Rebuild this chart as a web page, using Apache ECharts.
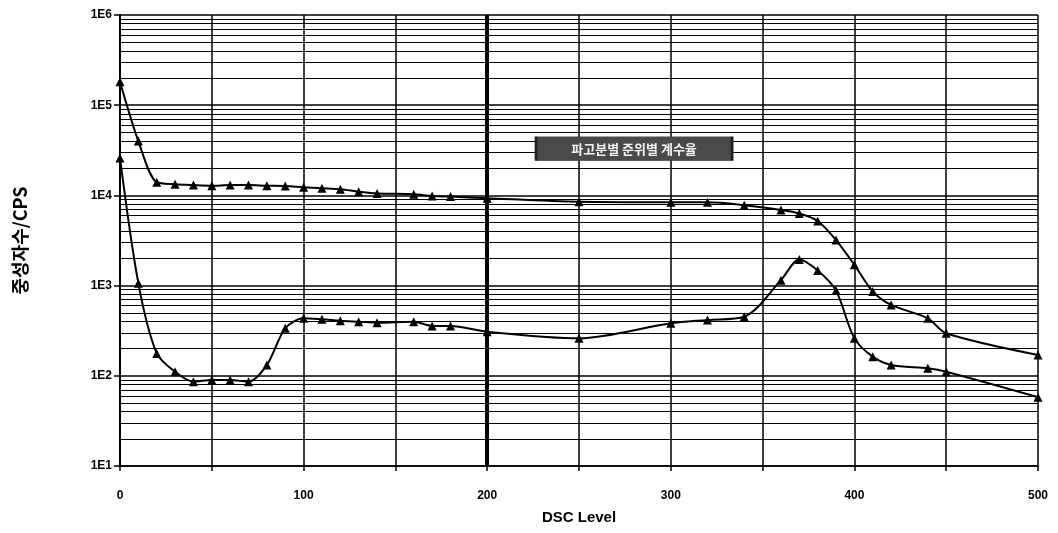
<!DOCTYPE html>
<html>
<head>
<meta charset="utf-8">
<script src="https://cdn.jsdelivr.net/npm/echarts@6/dist/echarts.min.js"></script>
<style>
  html, body { margin: 0; padding: 0; background: #ffffff; }
  #chart { width: 1058px; height: 533px; }
</style>
</head>
<body>
<div id="chart"></div>
<script>
// DSC level settings where counts were taken
const dscLevel = [0, 10, 20, 30, 40, 50, 60, 70, 80, 90, 100, 110, 120, 130, 140, 160, 170, 180,
                  200, 250, 300, 320, 340, 360, 370, 380, 390, 400, 410, 420, 440, 450, 500];
// upper curve (counts per second)
const countsHigh = [182000, 40000, 14000, 13300, 13000, 12800, 13000, 13000, 12800, 12700, 12300,
                    12000, 11700, 11000, 10500, 10300, 9850, 9700, 9300, 8500, 8400, 8400, 7800,
                    6900, 6300, 5200, 3200, 1700, 860, 610, 434, 296, 170];
// lower curve (counts per second)
const countsLow = [26000, 1060, 177, 111, 86, 90, 90, 86, 132, 336, 434, 423, 408, 398, 388, 398,
                   357, 357, 308, 260, 382, 416, 452, 1150, 1950, 1470, 880, 260, 163, 132, 121,
                   111, 58];

const decadeLabels = ['1E1', '1E2', '1E3', '1E4', '1E5', '1E6'];
const minorMantissas = [2, 3, 4, 5, 6, 7, 8, 9];
const minorDecades = [10, 100, 1000, 10000, 100000];
const xAxisName = 'DSC Level';
const yAxisName = '중성자수/CPS';
const noteText = '파고분별 준위별 계수율';
const notePosition = [280, 33000];

const pairs = (ys) => dscLevel.map((x, i) => [x, ys[i]]);

// log-scale minor grid (2..9 in each decade) plus the heavy marker line at DSC 200
const minorLines = minorDecades.flatMap(d => minorMantissas.map(m => ({
  yAxis: m * d,
  lineStyle: { color: '#000', width: 1.2, type: 'solid' }
})));
const heavyLine = { xAxis: 200, lineStyle: { color: '#000', width: 4, type: 'solid' } };

const latin = '"Liberation Sans", Arial, sans-serif';
const cjk = '"Noto Sans CJK KR", "Liberation Sans", sans-serif';

const lineSeries = (name, ys) => ({
  name,
  type: 'line',
  data: pairs(ys),
  smooth: 0.3,
  symbol: 'triangle',
  symbolSize: 9,
  showSymbol: true,
  lineStyle: { color: '#000', width: 2 },
  itemStyle: { color: '#000' },
  z: 5
});

const chart = echarts.init(document.getElementById('chart'), null, { renderer: 'canvas' });
chart.setOption({
  animation: false,
  backgroundColor: '#ffffff',
  grid: { left: 120, right: 20, top: 15, bottom: 67, containLabel: false },
  xAxis: {
    type: 'value',
    min: 0,
    max: 500,
    interval: 50,
    name: xAxisName,
    nameLocation: 'middle',
    nameGap: 44,
    nameTextStyle: { color: '#000', fontFamily: latin, fontWeight: 'bold', fontSize: 15 },
    axisLine: { show: true, lineStyle: { color: '#000', width: 1.5 } },
    axisTick: { show: true, length: 5, lineStyle: { color: '#000', width: 1.5 } },
    axisLabel: {
      margin: 24,
      color: '#000',
      fontFamily: latin,
      fontWeight: 'bold',
      fontSize: 12,
      formatter: v => (v % 100 === 0 ? String(v) : '')
    },
    splitLine: { show: true, lineStyle: { color: '#000', width: 1.5 } }
  },
  yAxis: {
    type: 'log',
    logBase: 10,
    min: 10,
    max: 1000000,
    name: yAxisName,
    nameLocation: 'middle',
    nameRotate: 90,
    nameGap: 91,
    nameTextStyle: { color: '#000', fontFamily: cjk, fontSize: 18, fontWeight: 'bold' },
    axisLine: { show: true, lineStyle: { color: '#000', width: 2 } },
    axisTick: { show: true, length: 6, lineStyle: { color: '#000', width: 1.5 } },
    axisLabel: {
      margin: 8,
      color: '#000',
      fontFamily: latin,
      fontWeight: 'bold',
      fontSize: 12,
      formatter: v => decadeLabels[Math.round(Math.log10(v)) - 1] || ''
    },
    splitLine: { show: true, lineStyle: { color: '#000', width: 1.5 } }
  },
  series: [
    Object.assign(lineSeries('upper', countsHigh), {
      markLine: {
        silent: true,
        symbol: ['none', 'none'],
        label: { show: false },
        animation: false,
        data: minorLines.concat([heavyLine]),
        z: 1
      },
      markPoint: {
        silent: true,
        symbol: 'rect',
        symbolSize: [196, 24],
        itemStyle: { color: '#4a4a4a', borderColor: '#222', borderWidth: 1 },
        label: {
          show: true,
          position: 'inside',
          color: '#f2f2f2',
          fontFamily: cjk,
          fontSize: 13,
          fontWeight: 'bold',
          formatter: noteText
        },
        data: [{ coord: notePosition }]
      }
    }),
    lineSeries('lower', countsLow)
  ]
});
</script>
</body>
</html>
